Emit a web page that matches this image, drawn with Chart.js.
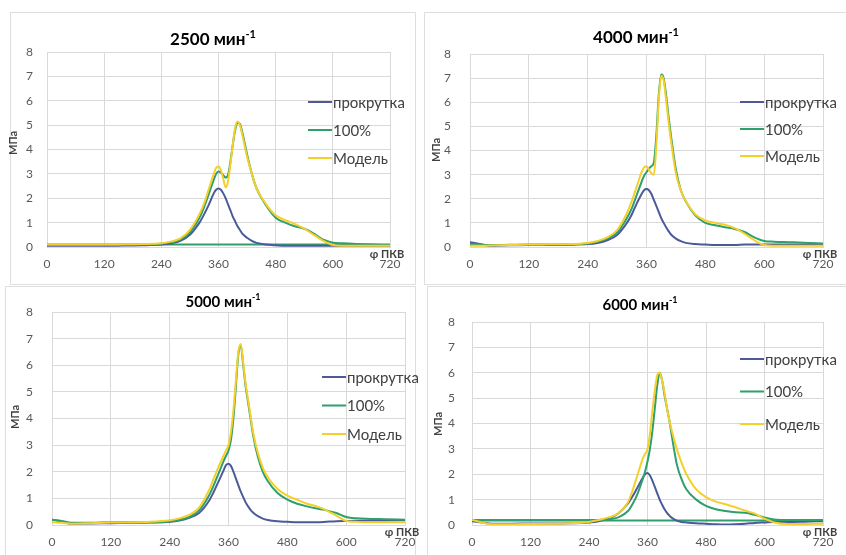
<!DOCTYPE html>
<html>
<head>
<meta charset="utf-8">
<script src="https://cdn.jsdelivr.net/npm/chart.js@4.4.1/dist/chart.umd.min.js"></script>
<style>
  body { margin: 0; background: #fff; }
  #wrap { position: relative; width: 846px; height: 555px; overflow: hidden; }
  .box { position: absolute; border: 1px solid #dedede; }
  canvas { position: absolute; }
</style>
</head>
<body>
<div id="wrap"></div>
<script>
// crank angle, degrees (shared by every curve)
const angle = [0, 20, 40, 80, 120, 160, 200, 240, 260, 280, 300, 320, 330, 340, 350, 355, 360, 365, 370, 375,
  380, 385, 390, 395, 400, 405, 410, 420, 430, 440, 460, 480, 500, 520, 540, 560, 580, 600, 620, 650, 680, 720];

const seriesNames = ['прокрутка', '100%', 'Модель'];
const speeds = ['2500', '4000', '5000', '6000'];
const xTicks = [0, 120, 240, 360, 480, 600, 720];
const yTicks = [0, 1, 2, 3, 4, 5, 6, 7, 8];

// 2500 min-1, MPa
const motor2500 = [0.05, 0.05, 0.05, 0.05, 0.05, 0.06, 0.07, 0.1, 0.15, 0.25, 0.5, 1.0, 1.35, 1.75, 2.2, 2.35, 2.4, 2.35, 2.2, 2.0,
  1.75, 1.5, 1.25, 1.05, 0.85, 0.7, 0.55, 0.38, 0.25, 0.17, 0.1, 0.07, 0.05, 0.05, 0.05, 0.05, 0.05, 0.05, 0.05, 0.05, 0.05, 0.05];
const full2500 = [0.08, 0.08, 0.08, 0.08, 0.08, 0.09, 0.1, 0.13, 0.2, 0.3, 0.6, 1.2, 1.65, 2.2, 2.75, 3.0, 3.1, 3.05, 2.95, 2.85,
  2.95, 3.5, 4.2, 4.8, 5.1, 5.05, 4.7, 3.8, 3.0, 2.4, 1.7, 1.2, 1.0, 0.85, 0.75, 0.55, 0.3, 0.18, 0.15, 0.12, 0.1, 0.08];
const model2500 = [0.1, 0.1, 0.1, 0.1, 0.1, 0.11, 0.12, 0.15, 0.22, 0.35, 0.7, 1.35, 1.8, 2.4, 3.0, 3.25, 3.3, 3.15, 2.8, 2.45,
  2.7, 3.4, 4.2, 4.9, 5.15, 5.0, 4.6, 3.7, 3.0, 2.4, 1.75, 1.3, 1.1, 0.95, 0.75, 0.5, 0.25, 0.08, 0.05, 0.05, 0.05, 0.05];

// 4000 min-1
const motor4000 = [0.2, 0.12, 0.05, 0.07, 0.08, 0.08, 0.09, 0.12, 0.17, 0.28, 0.5, 1.0, 1.35, 1.8, 2.2, 2.35, 2.4, 2.35, 2.2, 1.95,
  1.7, 1.45, 1.2, 1.0, 0.82, 0.66, 0.52, 0.35, 0.24, 0.17, 0.12, 0.1, 0.08, 0.08, 0.08, 0.1, 0.1, 0.1, 0.1, 0.1, 0.1, 0.1];
const full4000 = [0.12, 0.1, 0.08, 0.09, 0.1, 0.1, 0.11, 0.15, 0.22, 0.35, 0.6, 1.2, 1.6, 2.15, 2.7, 2.95, 3.1, 3.25, 3.35, 3.5,
  4.6, 6.3, 7.15, 7.0, 6.3, 5.4, 4.6, 3.2, 2.35, 1.9, 1.3, 1.0, 0.9, 0.82, 0.75, 0.62, 0.4, 0.25, 0.22, 0.2, 0.18, 0.15];
const model4000 = [0.05, 0.05, 0.06, 0.08, 0.1, 0.11, 0.12, 0.17, 0.25, 0.4, 0.7, 1.4, 1.9, 2.5, 3.1, 3.3, 3.35, 3.2, 3.05, 3.0,
  4.2, 6.1, 7.1, 6.9, 6.1, 5.2, 4.4, 3.05, 2.35, 1.9, 1.35, 1.1, 1.0, 0.92, 0.78, 0.55, 0.28, 0.08, 0.05, 0.05, 0.05, 0.05];

// 5000 min-1
const motor5000 = [0.2, 0.12, 0.05, 0.06, 0.07, 0.08, 0.09, 0.12, 0.17, 0.27, 0.45, 0.9, 1.25, 1.65, 2.05, 2.25, 2.3, 2.22, 2.0, 1.75,
  1.5, 1.25, 1.05, 0.85, 0.7, 0.57, 0.47, 0.33, 0.24, 0.19, 0.14, 0.12, 0.1, 0.1, 0.1, 0.12, 0.14, 0.15, 0.16, 0.17, 0.17, 0.18];
const full5000 = [0.2, 0.15, 0.08, 0.08, 0.1, 0.1, 0.1, 0.13, 0.2, 0.3, 0.55, 1.1, 1.5, 1.95, 2.4, 2.6, 2.8, 3.2, 4.0, 5.2,
  6.4, 6.75, 6.0, 5.2, 4.6, 4.0, 3.4, 2.55, 2.0, 1.65, 1.2, 0.95, 0.8, 0.7, 0.62, 0.55, 0.45, 0.3, 0.25, 0.23, 0.22, 0.2];
const model5000 = [0.1, 0.08, 0.05, 0.07, 0.09, 0.1, 0.12, 0.18, 0.25, 0.38, 0.65, 1.3, 1.75, 2.2, 2.6, 2.8, 3.0, 3.5, 4.3, 5.4,
  6.5, 6.8, 6.1, 5.3, 4.7, 4.1, 3.5, 2.7, 2.15, 1.8, 1.35, 1.1, 0.95, 0.8, 0.7, 0.55, 0.35, 0.15, 0.12, 0.1, 0.1, 0.1];

// 6000 min-1
const motor6000 = [0.15, 0.1, 0.05, 0.05, 0.06, 0.06, 0.07, 0.1, 0.15, 0.25, 0.45, 0.85, 1.15, 1.5, 1.85, 2.0, 2.05, 1.95, 1.75, 1.5,
  1.25, 1.0, 0.8, 0.62, 0.48, 0.37, 0.28, 0.17, 0.12, 0.1, 0.07, 0.05, 0.03, 0.02, 0.03, 0.05, 0.08, 0.1, 0.12, 0.12, 0.13, 0.15];
const full6000 = [0.2, 0.2, 0.2, 0.2, 0.2, 0.2, 0.2, 0.2, 0.2, 0.22, 0.3, 0.55, 0.85, 1.25, 1.8, 2.1, 2.5, 3.0, 3.7, 4.6,
  5.5, 6.0, 5.7, 5.1, 4.6, 4.1, 3.5, 2.4, 1.8, 1.4, 1.0, 0.75, 0.62, 0.55, 0.5, 0.48, 0.4, 0.3, 0.22, 0.2, 0.2, 0.2];
const model6000 = [0.2, 0.1, 0.03, 0.03, 0.04, 0.05, 0.07, 0.12, 0.2, 0.3, 0.45, 0.9, 1.4, 2.0, 2.6, 2.8, 3.0, 3.6, 4.5, 5.3,
  5.9, 6.0, 5.7, 5.2, 4.6, 4.1, 3.7, 3.0, 2.45, 2.0, 1.4, 1.1, 0.92, 0.82, 0.7, 0.57, 0.45, 0.25, 0.1, 0.04, 0.04, 0.05];

// flat return line of the 100% trace (drawn from 720 back to 0)
const baseAngle = [720, 0];
const base2500 = [0.1, 0.1];
const base6000 = [0.18, 0.18];

const colors = ['#4b5a9b', '#2f9f6c', '#f3d02c'];

// page placement of each panel (plot area in page pixels)
const panels = [
  { series: [motor2500, full2500, model2500], base: base2500, plot: { l: 47, t: 52, r: 390, b: 247 },
    box: [10, 12, 404, 271], title: [213, 40, 17], legend: [308, 102, 28], mpa: [13, 143], yPad: 14 },
  { series: [motor4000, full4000, model4000], base: null, plot: { l: 470, t: 54, r: 823, b: 247 },
    box: [424, 12, 421, 271], title: [636, 38, 17], legend: [740, 102, 27], mpa: [436, 150], yPad: 19 },
  { series: [motor5000, full5000, model5000], base: null, plot: { l: 52, t: 312, r: 405, b: 525 },
    box: [5, 286, 409, 270], title: [223, 302, 15], legend: [322, 377, 28.5], mpa: [15, 417], yPad: 19 },
  { series: [motor6000, full6000, model6000], base: base6000, plot: { l: 472, t: 322, r: 823, b: 525 },
    box: [427, 286, 419, 270], title: [640, 305, 15], legend: [740, 359, 32.5], mpa: [438, 424], yPad: 17 }
];

const PAD_L = 47, PAD_T = 50, PAD_R = 23, PAD_B = 28;
const FONT = 'Lato, "Open Sans", sans-serif';

const decor = {
  id: 'decor',
  afterDraw(chart, args, o) {
    const ctx = chart.ctx;
    const dx = -o.left, dy = -o.top;
    ctx.save();
    // title with superscript
    const [tx, ty, ts] = o.title;
    ctx.fillStyle = '#000';
    ctx.textBaseline = 'middle';
    ctx.font = 'bold ' + ts + 'px ' + FONT;
    const main = o.speed + ' мин';
    const w1 = ctx.measureText(main).width;
    ctx.font = 'bold ' + Math.round(ts * 0.62) + 'px ' + FONT;
    const w2 = ctx.measureText('-1').width;
    const x0 = tx + dx - (w1 + w2) / 2;
    ctx.font = 'bold ' + ts + 'px ' + FONT;
    ctx.textAlign = 'left';
    ctx.fillText(main, x0, ty + dy);
    ctx.font = 'bold ' + Math.round(ts * 0.62) + 'px ' + FONT;
    ctx.fillText('-1', x0 + w1, ty + dy - ts * 0.35);

    // axis titles
    ctx.fillStyle = '#404040';
    ctx.font = 'bold 11px ' + FONT;
    ctx.save();
    ctx.translate(o.mpa[0] + dx, o.mpa[1] + dy);
    ctx.rotate(-Math.PI / 2);
    ctx.textAlign = 'center';
    ctx.fillText('МПа', 0, 0);
    ctx.restore();
    const area = chart.chartArea;
    ctx.textAlign = 'center';
    ctx.fillText('φ ПКВ', area.right - 3, area.bottom + 7);

    // legend
    const [lx, ly, lstep] = o.legend;
    ctx.font = '15px ' + FONT;
    ctx.textAlign = 'left';
    seriesNames.forEach((name, i) => {
      const y = ly + dy + i * lstep;
      ctx.strokeStyle = colors[i];
      ctx.lineWidth = 2;
      ctx.beginPath();
      ctx.moveTo(lx + dx, y);
      ctx.lineTo(lx + dx + 24, y);
      ctx.stroke();
      ctx.fillStyle = '#404040';
      ctx.fillText(name, lx + dx + 25, y + 1);
    });
    ctx.restore();
  }
};

const wrap = document.getElementById('wrap');

panels.forEach((p) => {
  const box = document.createElement('div');
  box.className = 'box';
  box.style.left = p.box[0] + 'px';
  box.style.top = p.box[1] + 'px';
  box.style.width = p.box[2] + 'px';
  box.style.height = p.box[3] + 'px';
  wrap.appendChild(box);
});

panels.forEach((p, k) => {
  const canvas = document.createElement('canvas');
  const left = p.plot.l - PAD_L, top = p.plot.t - PAD_T;
  const width = p.plot.r - p.plot.l + PAD_L + PAD_R;
  const height = p.plot.b - p.plot.t + PAD_T + PAD_B;
  canvas.width = width;
  canvas.height = height;
  canvas.style.left = left + 'px';
  canvas.style.top = top + 'px';
  canvas.style.width = width + 'px';
  canvas.style.height = height + 'px';
  wrap.appendChild(canvas);

  const datasets = p.series.map((vals, i) => ({
    label: seriesNames[i],
    data: angle.map((a, j) => ({ x: a, y: vals[j] })),
    borderColor: colors[i],
    borderWidth: 2,
    pointRadius: 0,
    cubicInterpolationMode: 'monotone',
    order: 3 - i
  }));
  if (p.base) {
    datasets.push({
      label: 'base',
      data: baseAngle.map((a, j) => ({ x: a, y: p.base[j] })),
      borderColor: colors[1],
      borderWidth: 2,
      pointRadius: 0,
      order: 5
    });
  }

  new Chart(canvas, {
    type: 'line',
    data: { datasets },
    options: {
      responsive: false,
      animation: false,
      parsing: false,
      layout: { padding: { left: 0, top: PAD_T, right: PAD_R, bottom: 0 } },
      scales: {
        x: {
          type: 'linear', min: 0, max: 720,
          afterBuildTicks: s => { s.ticks = xTicks.map(v => ({ value: v })); },
          afterFit: s => { s.height = PAD_B; },
          grid: { color: '#d9d9d9', drawTicks: false },
          border: { color: '#d9d9d9' },
          ticks: { padding: 10, maxRotation: 0, autoSkip: false, color: '#595959', font: { family: FONT, size: 12 } }
        },
        y: {
          type: 'linear', min: 0, max: 8,
          afterBuildTicks: s => { s.ticks = yTicks.map(v => ({ value: v })); },
          afterFit: s => { s.width = PAD_L; },
          grid: { color: '#d9d9d9', drawTicks: false },
          border: { display: false },
          ticks: { padding: p.yPad, color: '#595959', font: { family: FONT, size: 12 } }
        }
      },
      plugins: {
        legend: { display: false },
        tooltip: { enabled: false },
        decor: { left, top, speed: speeds[k], title: p.title, legend: p.legend, mpa: p.mpa }
      }
    },
    plugins: [decor]
  });
});
</script>
</body>
</html>
